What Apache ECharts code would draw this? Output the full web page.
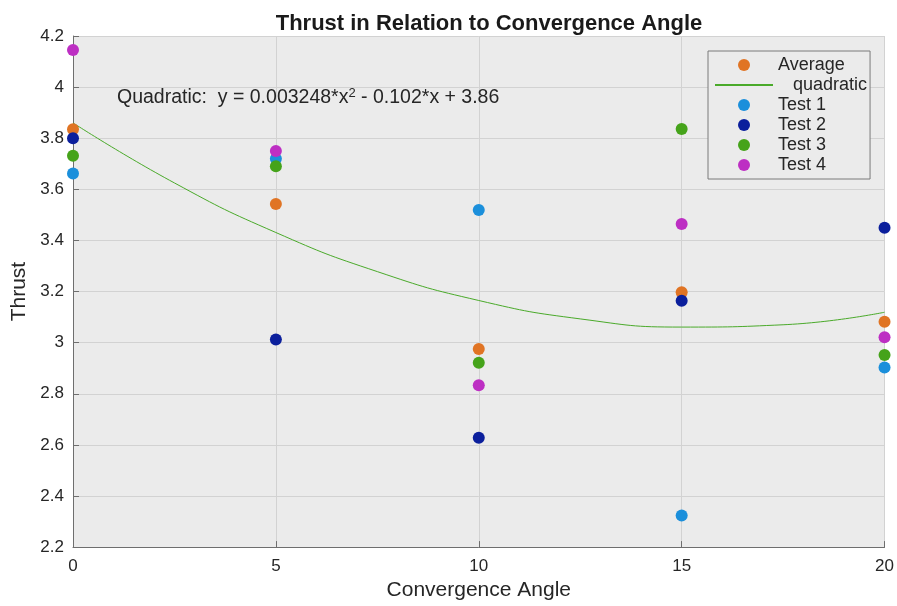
<!DOCTYPE html>
<html>
<head>
<meta charset="utf-8">
<script src="https://cdn.jsdelivr.net/npm/echarts@6/dist/echarts.min.js"></script>
<style>
  html, body { margin: 0; padding: 0; background: #fff; }
  #chart { width: 897px; height: 606px; }
</style>
</head>
<body>
<div id="chart"></div>
<script>
// convergence angles
var angles = [0, 5, 10, 15, 20];

// thrust readings per test
var test1 = [3.662, 3.720, 3.519, 2.324, 2.903];
var test2 = [3.800, 3.012, 2.628, 3.164, 3.450];
var test3 = [3.731, 3.690, 2.921, 3.836, 2.952];
var test4 = [4.145, 3.750, 2.833, 3.464, 3.021];
var average = [3.835, 3.543, 2.975, 3.197, 3.082];

// quadratic fit curve
var fitX = [0, 2.5, 5, 7.5, 10, 12.5, 15, 17.5, 20];
var fitY = [3.860, 3.625, 3.431, 3.278, 3.165, 3.093, 3.061, 3.070, 3.119];

var yTicks = [2.2, 4.2, 0.2]; // min, max, step

function pairs(xs, ys) {
  return xs.map(function (x, i) { return [x, ys[i]]; });
}

var font = '"Liberation Sans", Arial, sans-serif';
var chart = echarts.init(document.getElementById('chart'));

chart.setOption({
  backgroundColor: '#fff',
  textStyle: { fontFamily: font },
  title: {
    text: 'Thrust in Relation to Convergence Angle',
    left: 484, top: 8, textAlign: 'center',
    textStyle: { fontSize: 22, fontWeight: 'bold', color: '#1a1a1a', fontFamily: font }
  },
  grid: {
    left: 73, right: 12, top: 36, bottom: 57,
    show: true, backgroundColor: '#ebebeb', borderWidth: 0
  },
  legend: {
    orient: 'vertical',
    left: 708, top: 51,
    padding: [5, 3, 5, 6],
    backgroundColor: '#ebebeb',
    borderColor: '#7a7a7a', borderWidth: 1, borderRadius: 0,
    itemWidth: 58, itemHeight: 12, itemGap: 2,
    textStyle: { fontSize: 18, lineHeight: 18, color: '#262626', fontFamily: font },
    formatter: function (name) { return name === 'quadratic' ? '   quadratic' : name; },
    data: [
      'Average',
      { name: 'quadratic', itemStyle: { opacity: 0, borderWidth: 0 } },
      'Test 1', 'Test 2', 'Test 3', 'Test 4'
    ]
  },
  xAxis: {
    type: 'value', min: 0, max: 20, interval: 5,
    name: 'Convergence Angle', nameLocation: 'middle', nameGap: 28,
    nameTextStyle: { fontSize: 21, color: '#262626' },
    axisLine: { show: true, onZero: false, lineStyle: { color: '#6e6e6e', width: 1 } },
    axisTick: { show: true, inside: true, length: 6, lineStyle: { color: '#6e6e6e' } },
    axisLabel: { fontSize: 17, color: '#262626', margin: 11 },
    splitLine: { show: true, lineStyle: { color: '#d2d2d2', width: 1 } }
  },
  yAxis: {
    type: 'value', min: yTicks[0], max: yTicks[1], interval: yTicks[2],
    name: 'Thrust', nameLocation: 'middle', nameGap: 35,
    nameTextStyle: { fontSize: 21, color: '#262626' },
    axisLine: { show: true, onZero: false, lineStyle: { color: '#6e6e6e', width: 1 } },
    axisTick: { show: true, inside: true, length: 6, lineStyle: { color: '#6e6e6e' } },
    axisLabel: { fontSize: 17, color: '#262626', margin: 9 },
    splitLine: { show: true, lineStyle: { color: '#d2d2d2', width: 1 } }
  },
  graphic: [{
    type: 'text', left: 117, top: 87, z: 10,
    style: {
      text: '{a|Quadratic:  y = 0.003248*x}{s|2}{a| - 0.102*x + 3.86}',
      rich: {
        a: { fontSize: 19.5, fill: '#262626', fontFamily: font },
        s: { fontSize: 13, fill: '#262626', fontFamily: font, verticalAlign: 'top', padding: [0, 0, 9, 0] }
      }
    }
  }],
  series: [
    {
      name: 'quadratic', type: 'line', data: pairs(fitX, fitY),
      smooth: 0.5, symbol: 'none', showSymbol: false,
      itemStyle: { color: '#4aaa2a' }, lineStyle: { color: '#4aaa2a', width: 1 }, z: 2
    },
    { name: 'Test 1', type: 'scatter', data: pairs(angles, test1), symbolSize: 12, itemStyle: { color: '#1b8fdb', opacity: 1 }, z: 3 },
    { name: 'Test 2', type: 'scatter', data: pairs(angles, test2), symbolSize: 12, itemStyle: { color: '#0b1f9c', opacity: 1 }, z: 4 },
    { name: 'Test 3', type: 'scatter', data: pairs(angles, test3), symbolSize: 12, itemStyle: { color: '#45a31a', opacity: 1 }, z: 5 },
    { name: 'Test 4', type: 'scatter', data: pairs(angles, test4), symbolSize: 12, itemStyle: { color: '#bd2fc3', opacity: 1 }, z: 6 },
    { name: 'Average', type: 'scatter', data: pairs(angles, average), symbolSize: 12, itemStyle: { color: '#e07424', opacity: 1 }, z: 2 }
  ]
});
</script>
</body>
</html>
